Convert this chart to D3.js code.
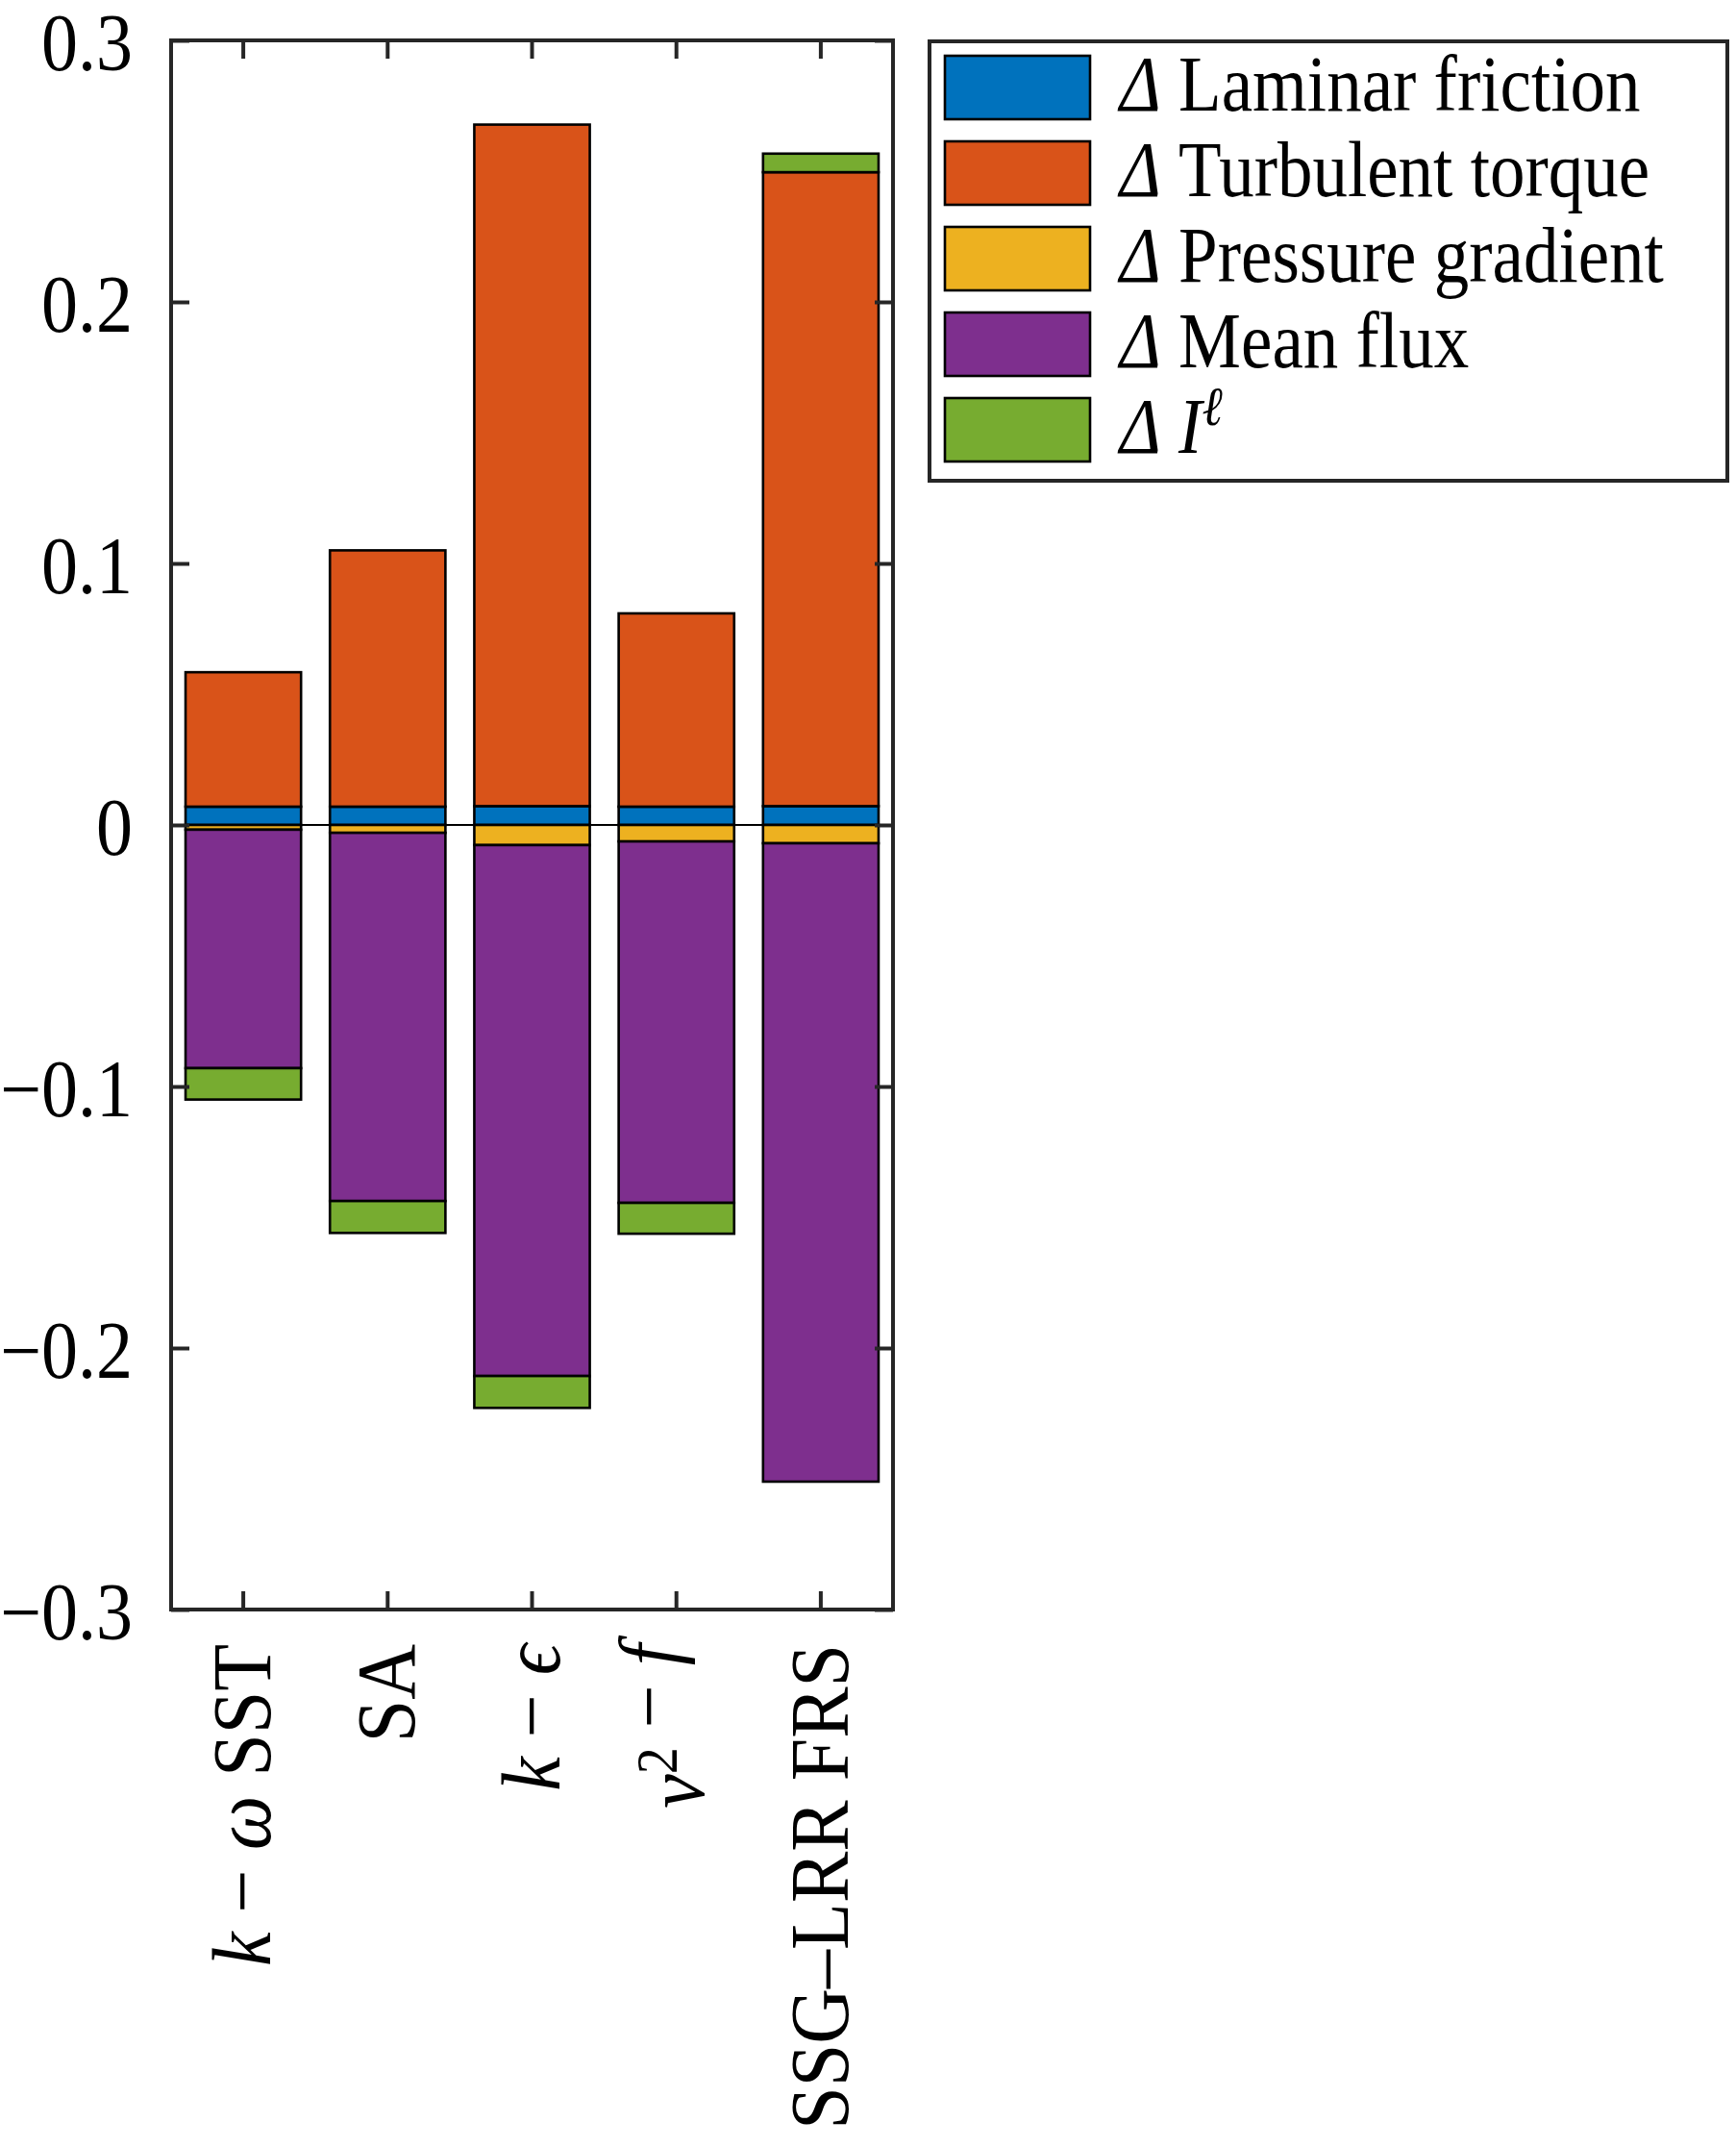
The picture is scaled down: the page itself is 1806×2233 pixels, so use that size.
<!DOCTYPE html>
<html>
<head>
<meta charset="utf-8">
<script src="https://cdn.jsdelivr.net/npm/d3@7"></script>
<style>
  body { margin: 0; background: #fff; }
</style>
</head>
<body>
<div id="app"></div>
<script>
// models on the x axis ("^" marks a superscript, single letters are italic)
let categories = ['k − ω SST', 'SA', 'k − ϵ', 'v^2 − f', 'SSG–LRR FRS'];

// stacked contributions, one array per term
let laminar    = [0.0070, 0.0070, 0.0072, 0.0070, 0.0072];
let turbulent  = [0.0514, 0.0980, 0.2606, 0.0739, 0.2424];
let pressure   = [-0.0018, -0.0030, -0.0077, -0.0063, -0.0070];
let meanFlux   = [-0.0912, -0.1408, -0.2030, -0.1382, -0.2441];
let iEll       = [-0.0120, -0.0122, -0.0122, -0.0118, 0.0071];

let seriesKeys = ['laminar', 'turbulent', 'pressure', 'meanFlux', 'iEll'];
let seriesNames = ['Laminar friction', 'Turbulent torque', 'Pressure gradient', 'Mean flux', 'I'];
let seriesColors = ['#0072BD', '#D95319', '#EDB120', '#7E2F8E', '#77AC30'];

let yTicks = [-0.3, -0.2, -0.1, 0, 0.1, 0.2, 0.3];

let W = 1806, H = 2233;
let margin = { top: 42, left: 178 };
let plotW = 751, plotH = 1632;
let axisColor = '#262626';
let serif = '"Liberation Serif"';

let rows = categories.map(function(c, i) {
  return {
    cat: c,
    laminar: laminar[i],
    turbulent: turbulent[i],
    pressure: pressure[i],
    meanFlux: meanFlux[i],
    iEll: iEll[i]
  };
});

let stacked = d3.stack()
                .keys(seriesKeys)
                .offset(d3.stackOffsetDiverging)(rows);

let xScale = d3.scaleBand()
               .domain(categories)
               .range([margin.left, margin.left + plotW])
               .paddingInner(0.2)
               .paddingOuter(0.1);

let yScale = d3.scaleLinear()
               .domain([-0.3, 0.3])
               .range([margin.top + plotH, margin.top]);

let color = d3.scaleOrdinal()
              .domain(seriesKeys)
              .range(seriesColors);

let svg = d3.select('#app').append('svg')
    .attr('width', W)
    .attr('height', H)
    .style('display', 'block');

// bars
svg.append('g')
  .selectAll('g')
  .data(stacked)
  .enter()
  .append('g')
    .attr('fill', function(d) { return color(d.key); })
  .selectAll('rect')
    .data(function(d) { return d; })
    .enter()
    .append('rect')
      .attr('x', function(d) { return xScale(d.data.cat); })
      .attr('width', xScale.bandwidth())
      .attr('y', function(d) { return yScale(Math.max(d[0], d[1])); })
      .attr('height', function(d) { return Math.abs(yScale(d[0]) - yScale(d[1])); })
      .attr('stroke', '#000')
      .attr('stroke-width', 2.6);

// zero baseline
svg.append('line')
   .attr('x1', margin.left)
   .attr('x2', margin.left + plotW)
   .attr('y1', yScale(0))
   .attr('y2', yScale(0))
   .attr('stroke', '#000')
   .attr('stroke-width', 2);

// axes, ticks pointing inward on all four sides
let fmt = function(d) {
  if (d === 0) return '0';
  return d3.format('.1f')(d);
};

let tickLen = 19;

let yLeft = svg.append('g')
  .attr('transform', `translate(${margin.left}, 0)`)
  .call(d3.axisLeft(yScale).tickValues(yTicks).tickSize(-tickLen).tickPadding(40).tickFormat(fmt));

let yRight = svg.append('g')
  .attr('transform', `translate(${margin.left + plotW}, 0)`)
  .call(d3.axisRight(yScale).tickValues(yTicks).tickSize(-tickLen).tickFormat(''));

let xTop = svg.append('g')
  .attr('transform', `translate(0, ${margin.top})`)
  .call(d3.axisTop(xScale).tickSize(-tickLen).tickFormat(''));

let xBottom = svg.append('g')
  .attr('transform', `translate(0, ${margin.top + plotH})`)
  .call(d3.axisBottom(xScale).tickSize(-tickLen).tickFormat(''));

[yLeft, yRight, xTop, xBottom].forEach(function(g) {
  g.select('.domain').remove();
  g.selectAll('line').attr('stroke', axisColor).attr('stroke-width', 4);
});

yLeft.selectAll('text')
     .style('font-family', serif)
     .attr('font-size', 76)
     .attr('fill', '#000')
     .attr('dy', '0.36em')
     .attr('transform', 'scale(1, 1.1)');

// frame
svg.append('rect')
   .attr('x', margin.left)
   .attr('y', margin.top)
   .attr('width', plotW)
   .attr('height', plotH)
   .attr('fill', 'none')
   .attr('stroke', axisColor)
   .attr('stroke-width', 4);

// rotated category labels with italic symbols
function addLabel(textSel, label) {
  let tokens = label.split(' ');
  tokens.forEach(function(tok, k) {
    let sep = k > 0 ? ' ' : '';
    let sup = tok.split('^');
    let ital = /^[a-zω-ϵ]$/.test(sup[0]);
    textSel.append('tspan')
           .style('font-style', ital ? 'italic' : 'normal')
           .text(sep + sup[0]);
    if (sup.length > 1) {
      textSel.append('tspan')
             .attr('font-size', '0.7em')
             .attr('dy', '-0.45em')
             .text(sup[1]);
      textSel.append('tspan').attr('dy', '0.3em').text('');
    }
  });
}

xBottom.selectAll('.tick').each(function(d) {
  let t = d3.select(this).append('text')
            .style('font-family', serif)
            .attr('text-anchor', 'end')
            .attr('font-size', 80)
            .attr('fill', '#000')
            .attr('transform', 'translate(28, 36) rotate(-90) scale(1, 1.08)');
  addLabel(t, d);
});

// legend
let legend = svg.append('g');

legend.append('rect')
      .attr('x', 967)
      .attr('y', 43)
      .attr('width', 830)
      .attr('height', 457)
      .attr('fill', '#fff')
      .attr('stroke', axisColor)
      .attr('stroke-width', 4);

let legendRow = d3.scaleLinear().domain([0, 4]).range([91, 447]);

seriesKeys.forEach(function(key, i) {
  let cy = legendRow(i);
  legend.append('rect')
        .attr('x', 983)
        .attr('y', cy - 33)
        .attr('width', 151)
        .attr('height', 66)
        .attr('fill', color(key))
        .attr('stroke', '#000')
        .attr('stroke-width', 2.6);

  let t = legend.append('text')
                .style('font-family', serif)
                .attr('font-size', 73)
                .attr('fill', '#000')
                .attr('transform', `translate(1165, ${cy + 24}) scale(1, 1.12)`);
  t.append('tspan').style('font-style', 'italic').text('Δ');
  if (key === 'iEll') {
    t.append('tspan').style('font-style', 'italic').text(' ' + seriesNames[i]);
    t.append('tspan').style('font-style', 'italic')
     .attr('font-size', '0.7em').attr('dy', '-0.5em').text('ℓ');
  } else {
    t.append('tspan').text(' ' + seriesNames[i]);
  }
});
</script>
</body>
</html>
